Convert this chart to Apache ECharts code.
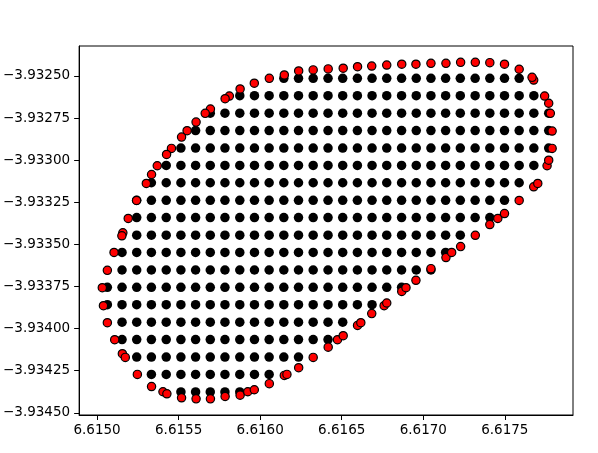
<!DOCTYPE html>
<html>
<head>
<meta charset="utf-8">
<script src="https://cdn.jsdelivr.net/npm/echarts@6.0.0/dist/echarts.min.js"></script>
<style>
  html, body { margin: 0; padding: 0; background: #fff; }
  #main { width: 598px; height: 453px; }
</style>
</head>
<body>
<div id="main"></div>
<script>
// grid columns (x) and rows (y) of the black points
const colX = [6.615063, 6.615153, 6.615243, 6.615333, 6.615424, 6.615514, 6.615604, 6.615694,
  6.615784, 6.615875, 6.615965, 6.616055, 6.616145, 6.616235, 6.616325, 6.616416, 6.616506,
  6.616596, 6.616686, 6.616776, 6.616867, 6.616957, 6.617047, 6.617137, 6.617227, 6.617318,
  6.617408, 6.617498, 6.617588, 6.617678, 6.617769]
const rowY = [-3.932514, -3.932617, -3.932721, -3.932824, -3.932928, -3.933031, -3.933134,
  -3.933238, -3.933341, -3.933445, -3.933548, -3.933652, -3.933755, -3.933858, -3.933962,
  -3.934065, -3.934169, -3.934272, -3.934376]
// first / last filled column of every row
const rowFirst = [12, 9, 7, 6, 5, 4, 3, 2, 2, 2, 1, 1, 0, 0, 1, 1, 2, 3, 5]
const rowLast = [28, 29, 30, 30, 30, 29, 28, 27, 26, 24, 23, 22, 20, 18, 16, 15, 13, 11, 9]

// boundary points (red)
const edgeX = [6.615607, 6.615552, 6.615518, 6.615456, 6.615426, 6.615369, 6.615334, 6.615302,
  6.615242, 6.615191, 6.615158, 6.615152, 6.615104, 6.615063, 6.615032, 6.615039, 6.615063,
  6.615108, 6.615155, 6.615173, 6.615247, 6.615334, 6.615404, 6.615428, 6.615518, 6.615607,
  6.615695, 6.615785, 6.615877, 6.615924, 6.615964, 6.616056, 6.616148, 6.616164, 6.616236,
  6.616325, 6.616417, 6.616474, 6.616509, 6.616597, 6.616617, 6.616684, 6.616760, 6.616776,
  6.616868, 6.616894, 6.616955, 6.617047, 6.617139, 6.617174, 6.617229, 6.617319, 6.617408,
  6.617457, 6.617498, 6.617588, 6.617677, 6.617702, 6.617759, 6.617769, 6.617790, 6.617790,
  6.617779, 6.617769, 6.617744, 6.617677, 6.617667, 6.617588, 6.617498, 6.617408, 6.617319,
  6.617229, 6.617139, 6.617047, 6.616955, 6.616868, 6.616776, 6.616684, 6.616597, 6.616509,
  6.616417, 6.616325, 6.616236, 6.616148, 6.616056, 6.615964, 6.615877, 6.615811, 6.615785,
  6.615695, 6.615663]
const edgeY = [-3.932774, -3.932825, -3.932863, -3.932930, -3.932966, -3.933033, -3.933085,
  -3.933138, -3.933239, -3.933346, -3.933431, -3.933449, -3.933548, -3.933654, -3.933757,
  -3.933864, -3.933965, -3.934066, -3.934149, -3.934171, -3.934272, -3.934344, -3.934375,
  -3.934387, -3.934411, -3.934417, -3.934417, -3.934403, -3.934395, -3.934375, -3.934363,
  -3.934327, -3.934278, -3.934272, -3.934232, -3.934171, -3.934110, -3.934066, -3.934042,
  -3.933981, -3.933965, -3.933911, -3.933864, -3.933848, -3.933779, -3.933757, -3.933713,
  -3.933644, -3.933578, -3.933548, -3.933513, -3.933446, -3.933382, -3.933346, -3.933317,
  -3.933239, -3.933158, -3.933138, -3.933033, -3.933000, -3.932930, -3.932827, -3.932722,
  -3.932662, -3.932619, -3.932524, -3.932508, -3.932460, -3.932430, -3.932421, -3.932419,
  -3.932419, -3.932425, -3.932425, -3.932430, -3.932430, -3.932435, -3.932441, -3.932445,
  -3.932454, -3.932458, -3.932464, -3.932470, -3.932494, -3.932514, -3.932543, -3.932577,
  -3.932619, -3.932635, -3.932696, -3.932722]

const xTicks = [6.615, 6.6155, 6.616, 6.6165, 6.617, 6.6175]
const yTicks = [-3.9325, -3.93275, -3.933, -3.93325, -3.9335, -3.93375, -3.934, -3.93425, -3.9345]

const inner = []
for (let r = 0; r < rowY.length; r++) {
  for (let c = rowFirst[r]; c <= rowLast[r]; c++) {
    inner.push([colX[c], rowY[r]])
  }
}
const edge = edgeX.map((x, i) => [x, edgeY[i]])

const font = 'DejaVu Sans'
const chart = echarts.init(document.getElementById('main'), null, { renderer: 'canvas' })

chart.setOption({
  animation: false,
  backgroundColor: '#fff',
  grid: {
    left: 78,
    right: 25,
    top: 46,
    bottom: 38,
    show: true,
    borderColor: '#000',
    borderWidth: 1,
    backgroundColor: 'transparent'
  },
  xAxis: {
    type: 'value',
    min: 6.61489,
    max: 6.617918,
    splitLine: { show: false },
    axisLine: { show: true, onZero: false, lineStyle: { color: '#000', width: 1 } },
    axisTick: { show: true, length: 5, lineStyle: { color: '#000' }, customValues: xTicks },
    axisLabel: {
      customValues: xTicks,
      margin: 8,
      color: '#000',
      fontFamily: font,
      fontSize: 13.5,
      formatter: v => v.toFixed(4)
    }
  },
  yAxis: {
    type: 'value',
    min: -3.934513,
    max: -3.932322,
    splitLine: { show: false },
    axisLine: { show: true, onZero: false, lineStyle: { color: '#000', width: 1 } },
    axisTick: { show: true, length: 5, lineStyle: { color: '#000' }, customValues: yTicks },
    axisLabel: {
      customValues: yTicks,
      margin: 9,
      color: '#000',
      fontFamily: font,
      fontSize: 13.5,
      formatter: v => (v < 0 ? '\u2212' : '') + Math.abs(v).toFixed(5)
    }
  },
  series: [
    {
      type: 'scatter',
      data: inner,
      symbolSize: 9.5,
      itemStyle: { color: '#000', opacity: 1 }
    },
    {
      type: 'scatter',
      data: edge,
      symbolSize: 8.3,
      itemStyle: { color: '#ff0000', borderColor: '#000', borderWidth: 1.2, opacity: 1 }
    }
  ]
})
</script>
</body>
</html>
